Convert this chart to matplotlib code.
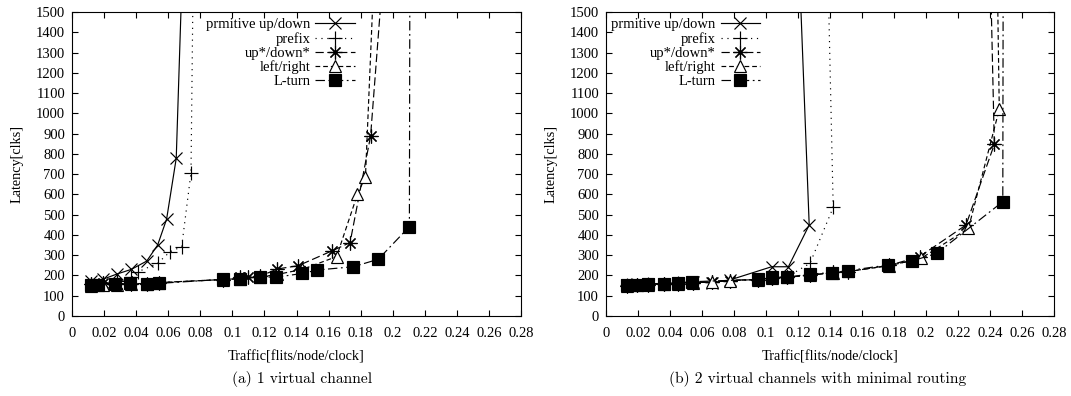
import matplotlib
matplotlib.use("Agg")
import matplotlib.pyplot as plt
from matplotlib.ticker import FormatStrFormatter

# ---- data: (a) 1 virtual channel ----
prim_a_x = [0.012, 0.0195, 0.028, 0.037, 0.0466, 0.0534, 0.059, 0.065, 0.072]
prim_a_y = [173, 182, 207, 230, 271, 350, 478, 778, 2500]
pref_a_x = [0.012, 0.0195, 0.028, 0.037, 0.0414, 0.0534, 0.0611, 0.0684, 0.0742, 0.0767]
pref_a_y = [160, 165, 175, 190, 219, 260, 317, 342, 707, 2500]
upd_a_x = [0.012, 0.0195, 0.028, 0.037, 0.0466, 0.0543, 0.0944, 0.1048, 0.11, 0.117,
           0.128, 0.141, 0.1623, 0.1734, 0.1862, 0.197]
upd_a_y = [160, 165, 160, 160, 160, 165, 180, 190, 190, 195,
           232, 248, 322, 362, 888, 2000]
lr_a_x = [0.012, 0.0195, 0.028, 0.037, 0.0466, 0.0543, 0.0944, 0.1048, 0.117, 0.128,
          0.1436, 0.165, 0.178, 0.183, 0.190]
lr_a_y = [150, 155, 155, 160, 160, 165, 180, 185, 192, 205,
          230, 293, 600, 687, 2000]
lt_a_x = [0.012, 0.0164, 0.0268, 0.0362, 0.0466, 0.0543, 0.0944, 0.1048, 0.117, 0.127,
          0.1436, 0.153, 0.1754, 0.191, 0.2104, 0.211]
lt_a_y = [153, 153, 156, 161, 156, 161, 181, 181, 194, 191,
          210, 227, 243, 280, 441, 3000]

# ---- data: (b) 2 virtual channels with minimal routing ----
prim_b_x = [0.0129, 0.0192, 0.0265, 0.0363, 0.0452, 0.0546, 0.066, 0.0775, 0.1035, 0.114, 0.127, 0.117]
prim_b_y = [155, 157, 160, 160, 165, 168, 164, 178, 243, 243, 449, 2500]
pref_b_x = [0.0129, 0.0192, 0.0265, 0.0363, 0.0452, 0.0546, 0.066, 0.0775, 0.0952, 0.1035,
            0.113, 0.1275, 0.142, 0.135]
pref_b_y = [152, 155, 158, 158, 162, 165, 168, 175, 180, 188, 192, 260, 536, 3000]
upd_b_x = [0.0129, 0.0192, 0.0265, 0.0363, 0.0452, 0.0546, 0.066, 0.0775, 0.0952, 0.1035,
           0.113, 0.1275, 0.142, 0.1515, 0.177, 0.196, 0.225, 0.2427, 0.238]
upd_b_y = [150, 152, 155, 158, 160, 165, 168, 175, 180, 188,
           192, 200, 215, 219, 250, 293, 449, 847, 2500]
lr_b_x = [0.0129, 0.0192, 0.0265, 0.0363, 0.0452, 0.0546, 0.066, 0.0775, 0.0952, 0.1035,
          0.113, 0.1275, 0.142, 0.1515, 0.177, 0.197, 0.2265, 0.2458, 0.243]
lr_b_y = [150, 152, 155, 158, 160, 165, 168, 175, 180, 186,
          190, 203, 213, 220, 248, 285, 432, 1020, 2500]
lt_b_x = [0.0129, 0.0192, 0.0265, 0.0363, 0.0452, 0.0535, 0.0952, 0.1035, 0.113, 0.1275,
          0.141, 0.1515, 0.1765, 0.191, 0.2067, 0.248, 0.2485]
lt_b_y = [153, 153, 158, 158, 161, 169, 181, 191, 191, 207,
          214, 224, 252, 271, 309, 564, 3000]

labels = ["prmitive up/down", "prefix", "up*/down*", "left/right", "L-turn"]
xticks = [0, 0.02, 0.04, 0.06, 0.08, 0.1, 0.12, 0.14, 0.16, 0.18, 0.2, 0.22, 0.24, 0.26, 0.28]
yticks = list(range(0, 1600, 100))

serif = ["Liberation Serif", "DejaVu Serif"]
plt.rcParams["font.family"] = serif

# gnuplot-like line types and point types
styles = [
    dict(ls="-", marker="x", ms=9, mfc="none"),
    dict(dashes=(1, 4), marker="+", ms=10),
    dict(dashes=(7, 3), marker=(8, 2, 0), ms=10),
    dict(dashes=(4, 2.5), marker="^", ms=8, mfc="white"),
    dict(dashes=(8, 3, 1.5, 3), marker="s", ms=9),
]

fig = plt.figure(figsize=(10.71, 3.96), dpi=100)
ax1 = fig.add_axes([72 / 1071, 80 / 396, 449 / 1071, 304 / 396])
ax2 = fig.add_axes([606 / 1071, 80 / 396, 448 / 1071, 304 / 396])

data_a = [(prim_a_x, prim_a_y), (pref_a_x, pref_a_y), (upd_a_x, upd_a_y),
          (lr_a_x, lr_a_y), (lt_a_x, lt_a_y)]
data_b = [(prim_b_x, prim_b_y), (pref_b_x, pref_b_y), (upd_b_x, upd_b_y),
          (lr_b_x, lr_b_y), (lt_b_x, lt_b_y)]

for ax, data, lx, cap, cx in [(ax1, data_a, 0.63, "(a) 1 virtual channel", 302),
                              (ax2, data_b, 0.344, "(b) 2 virtual channels with minimal routing", 818)]:
    for (xs, ys), lab, st in zip(data, labels, styles):
        ax.plot(xs, ys, color="black", lw=0.85, mec="black", mew=0.85, label=lab, **st)
    ax.set_xlim(0, 0.28)
    ax.set_ylim(0, 1500)
    ax.set_xticks(xticks)
    ax.set_yticks(yticks)
    ax.xaxis.set_major_formatter(FormatStrFormatter("%g"))
    ax.tick_params(direction="in", top=True, right=True, length=4, width=0.8,
                   labelsize=10.5)
    ax.tick_params(axis="x", pad=8)
    ax.tick_params(axis="y", pad=5)
    for s in ax.spines.values():
        s.set_linewidth(0.8)
    ax.set_xlabel("Traffic[flits/node/clock]", fontsize=10.3, labelpad=7)
    ax.set_ylabel("Latency[clks]", fontsize=10.3, labelpad=9)
    ax.legend(loc="upper right", bbox_to_anchor=(lx, 0.98), frameon=False,
              markerfirst=False, fontsize=10.5, handlelength=2.7, handletextpad=0.35,
              labelspacing=0.05, borderpad=0, borderaxespad=0)
    fig.text(cx / 1071, 13 / 396, cap, ha="center", va="baseline",
             family="cmr10", fontsize=11.2)

fig.savefig("out.png", dpi=100)
